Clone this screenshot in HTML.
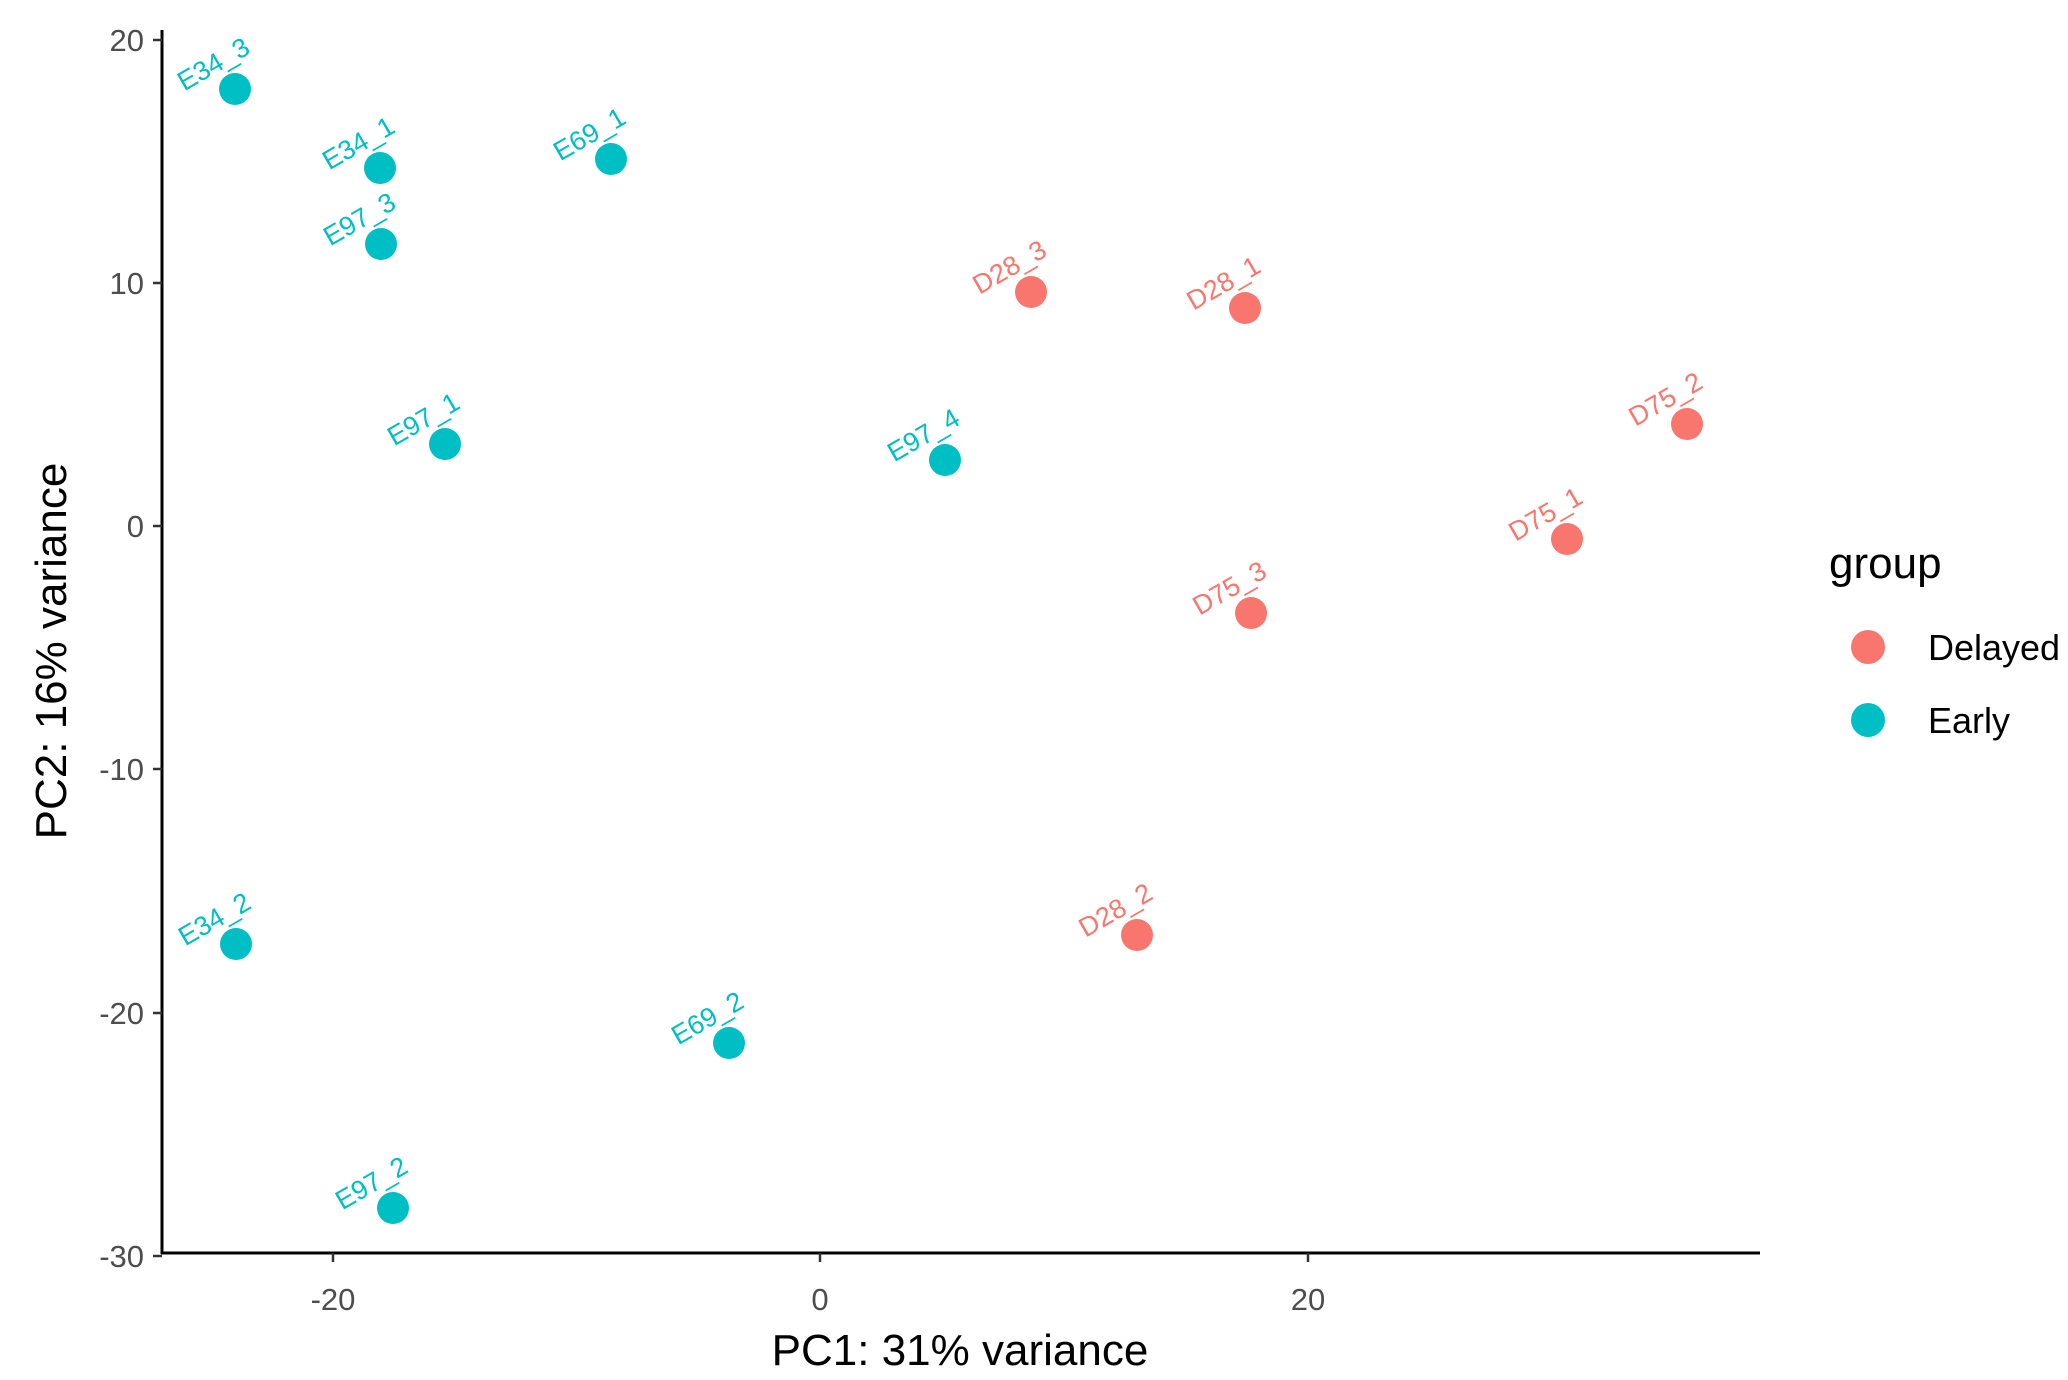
<!DOCTYPE html>
<html><head><meta charset="utf-8"><style>
html,body{margin:0;padding:0;background:#fff;}
svg{display:block;font-family:"Liberation Sans",Arial,sans-serif;}
.t{font-size:31px;fill:#4d4d4d;}
.lb{font-size:27px;}
.e{fill:#00BFC4;}
.d{fill:#F8766D;}
</style></head><body>
<svg width="2068" height="1380" viewBox="0 0 2068 1380" xmlns="http://www.w3.org/2000/svg">
<rect width="2068" height="1380" fill="#fff"/>
<line x1="162" y1="30" x2="162" y2="1254" stroke="#000" stroke-width="3"/>
<line x1="161" y1="1253" x2="1760" y2="1253" stroke="#000" stroke-width="3"/>
<g stroke="#333" stroke-width="2.5">
<line x1="153" y1="40" x2="162" y2="40"/>
<line x1="153" y1="283" x2="162" y2="283"/>
<line x1="153" y1="526" x2="162" y2="526"/>
<line x1="153" y1="769" x2="162" y2="769"/>
<line x1="153" y1="1013" x2="162" y2="1013"/>
<line x1="153" y1="1256" x2="162" y2="1256"/>
<line x1="333" y1="1253" x2="333" y2="1262"/>
<line x1="820" y1="1253" x2="820" y2="1262"/>
<line x1="1308" y1="1253" x2="1308" y2="1262"/>
</g>
<g class="t" text-anchor="end">
<text x="144" y="51">20</text>
<text x="144" y="294">10</text>
<text x="144" y="537">0</text>
<text x="144" y="780">-10</text>
<text x="144" y="1024">-20</text>
<text x="144" y="1267">-30</text>
</g>
<g class="t" text-anchor="middle">
<text x="333" y="1310">-20</text>
<text x="820" y="1310">0</text>
<text x="1308" y="1310">20</text>
</g>
<text x="960" y="1365" text-anchor="middle" font-size="44" fill="#000">PC1: 31% variance</text>
<text transform="translate(66,651) rotate(-90)" text-anchor="middle" font-size="44" fill="#000">PC2: 16% variance</text>
<g class="e">
<circle cx="235" cy="89" r="16"/>
<circle cx="380" cy="168" r="16"/>
<circle cx="611" cy="159" r="16"/>
<circle cx="381" cy="244" r="16"/>
<circle cx="445" cy="444" r="16"/>
<circle cx="945" cy="460" r="16"/>
<circle cx="236" cy="944" r="16"/>
<circle cx="729" cy="1043" r="16"/>
<circle cx="393" cy="1208" r="16"/>
</g>
<g class="d">
<circle cx="1031" cy="292" r="16"/>
<circle cx="1245" cy="308" r="16"/>
<circle cx="1687" cy="424" r="16"/>
<circle cx="1567" cy="539" r="16"/>
<circle cx="1251" cy="613" r="16"/>
<circle cx="1137" cy="935" r="16"/>
</g>
<g class="lb e" text-anchor="middle">
<text transform="translate(218,72) rotate(-30)">E34_3</text>
<text transform="translate(363,151) rotate(-30)">E34_1</text>
<text transform="translate(594,142) rotate(-30)">E69_1</text>
<text transform="translate(364,227) rotate(-30)">E97_3</text>
<text transform="translate(428,427) rotate(-30)">E97_1</text>
<text transform="translate(928,443) rotate(-30)">E97_4</text>
<text transform="translate(219,927) rotate(-30)">E34_2</text>
<text transform="translate(712,1026) rotate(-30)">E69_2</text>
<text transform="translate(376,1191) rotate(-30)">E97_2</text>
</g>
<g class="lb d" text-anchor="middle">
<text transform="translate(1014,275) rotate(-30)">D28_3</text>
<text transform="translate(1228,291) rotate(-30)">D28_1</text>
<text transform="translate(1670,407) rotate(-30)">D75_2</text>
<text transform="translate(1550,522) rotate(-30)">D75_1</text>
<text transform="translate(1234,596) rotate(-30)">D75_3</text>
<text transform="translate(1120,918) rotate(-30)">D28_2</text>
</g>
<text x="1829" y="578" font-size="44" fill="#000">group</text>
<circle cx="1868" cy="647" r="17" fill="#F8766D"/>
<circle cx="1868" cy="720" r="17" fill="#00BFC4"/>
<text x="1928" y="660" font-size="36" fill="#000">Delayed</text>
<text x="1928" y="733" font-size="36" fill="#000">Early</text>
</svg>
</body></html>
